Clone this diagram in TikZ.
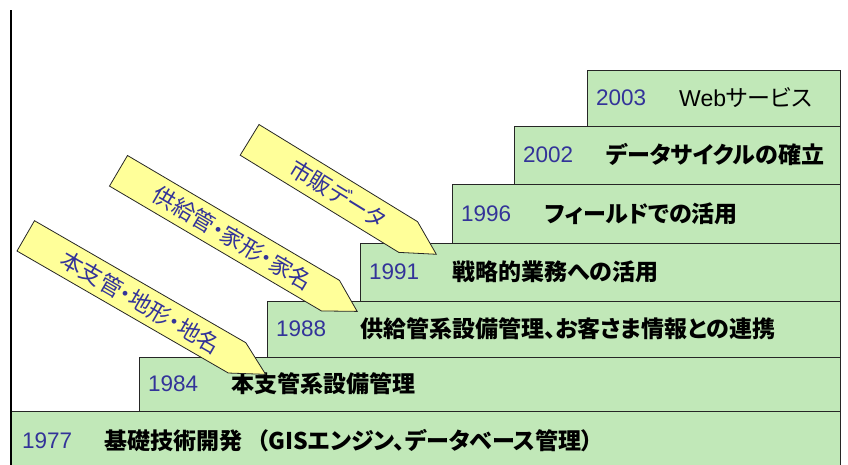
\documentclass[tikz,border=0pt]{standalone}
\usepackage{fontspec}
\setmainfont{Liberation Sans}
\newfontfamily\jpfont{Noto Sans CJK JP}[RawFeature=+palt]
\usepackage{xcolor}
\definecolor{stepgreen}{RGB}{193,232,184}
\definecolor{feedyellow}{RGB}{255,255,153}
\definecolor{yearblue}{RGB}{51,51,153}

\begin{document}
\begin{tikzpicture}[x=1pt,y=-1pt,
  bar/.style 2 args={draw=black!85,line width=0.8pt,fill=stepgreen,anchor=north west,outer sep=0pt,minimum width=#1,minimum height=#2},
  year/.style={anchor=west,text=yearblue,font=\fontsize{22.5}{22.5}\selectfont},
  title/.style={anchor=west,font=\jpfont\bfseries\fontsize{23}{23}\selectfont},
  feed/.style={draw=black!85,line width=0.8pt,fill=feedyellow},
  feedtext/.style={text=yearblue,font=\jpfont\fontsize{22.5}{22.5}\selectfont}]
\tikzstyle{every node}+=[inner sep=0pt]
\useasboundingbox (0,0) rectangle (848,464);
\node[bar={253}{56}] (b2003) at (587,70) {};
\node[year] (y2003) at ([xshift=9pt]b2003.west) {2003};
\node[title,font=\jpfont\fontsize{23}{23}\selectfont] (t2003) at ([xshift=92pt]b2003.west) {{\rmfamily Web}サービス};
\node[bar={326}{58}] (b2002) at (514,126) {};
\node[year] (y2002) at ([xshift=9pt]b2002.west) {2002};
\node[title] (t2002) at ([xshift=92pt]b2002.west) {データサイクルの確立};
\node[bar={388}{59}] (b1996) at (452,184) {};
\node[year] (y1996) at ([xshift=9pt]b1996.west) {1996};
\node[title] (t1996) at ([xshift=93pt]b1996.west) {フィールドでの活用};
\node[bar={480}{58}] (b1991) at (360,243) {};
\node[year] (y1991) at ([xshift=9pt]b1991.west) {1991};
\node[title] (t1991) at ([xshift=92pt]b1991.west) {戦略的業務への活用};
\node[bar={573}{56}] (b1988) at (267,301) {};
\node[year] (y1988) at ([xshift=9pt]b1988.west) {1988};
\node[title] (t1988) at ([xshift=93pt]b1988.west) {供給管系設備管理、お客さま情報との連携};
\node[bar={701}{54}] (b1984) at (139,357) {};
\node[year] (y1984) at ([xshift=9pt]b1984.west) {1984};
\node[title] (t1984) at ([xshift=92pt]b1984.west) {本支管系設備管理};
\node[bar={829}{59}] (b1977) at (11,411) {};
\node[year] (y1977) at ([xshift=11pt]b1977.west) {1977};
\node[title] (t1977) at ([xshift=93pt]b1977.west) {基礎技術開発\kern15pt（GISエンジン、データベース管理）};
\begin{scope}[shift={(34.5,220.7)},rotate=-30]
\draw[feed] (0,0) -- (244,0) -- (277,17.5) -- (244,35) -- (0,35) -- cycle;
\node[feedtext,rotate=-30] (f1984) at (132.5,17.5) {本支管・地形・地名};
\end{scope}
\begin{scope}[shift={(127.5,155.5)},rotate=-30.5]
\draw[feed] (0,0) -- (246,0) -- (277,17.75) -- (246,35.5) -- (0,35.5) -- cycle;
\node[feedtext,rotate=-30.5] (f1988) at (132.5,17.75) {供給管・家形・家名};
\end{scope}
\begin{scope}[shift={(259,124.5)},rotate=-31.5]
\draw[feed] (0,0) -- (186,0) -- (219,18) -- (186,36) -- (0,36) -- cycle;
\node[feedtext,rotate=-31.5] (f1991) at (103.5,18) {市販データ};
\end{scope}
\draw[line width=2.4pt] (11,10) -- (11,470);
\end{tikzpicture}
\end{document}
